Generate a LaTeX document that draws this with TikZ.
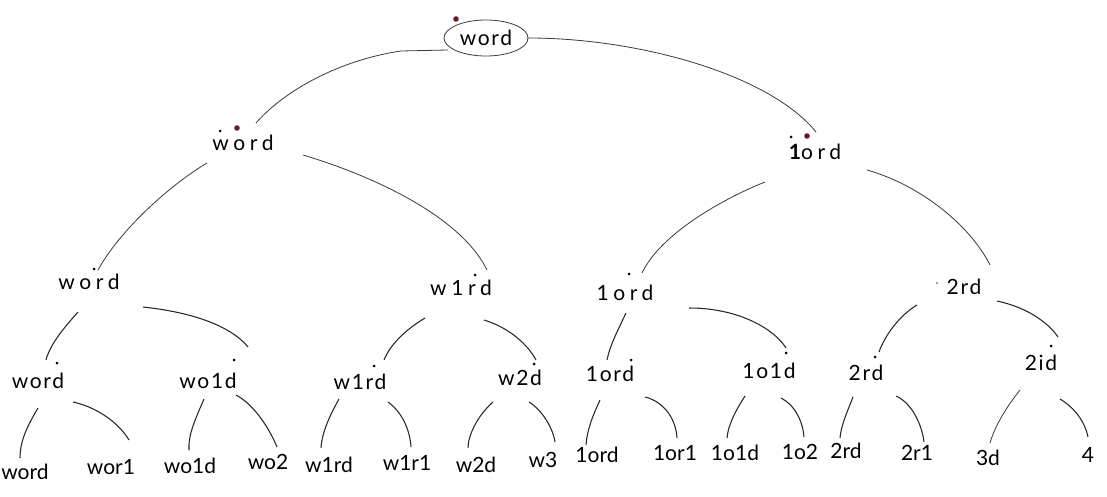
\documentclass[tikz,border=0pt]{standalone}
\usepackage{fontspec}
\setmainfont{Lato}
\usetikzlibrary{shapes.geometric}
\definecolor{dotred}{HTML}{6E1A26}
\definecolor{ink}{HTML}{3A3A3A}
\newcommand{\conn}[5]{\coordinate (#1s) at (#2); \coordinate (#1t) at (#5); \draw[edge] (#1s) .. controls (#3) and (#4) .. (#1t);}
\newcommand{\connb}[5]{\coordinate (#1s) at (#2); \coordinate (#1t) at (#5); \draw[edgeb] (#1s) .. controls (#3) and (#4) .. (#1t);}
\begin{document}
\begin{tikzpicture}[x=1pt,y=-1pt,
  edge/.style={draw=ink,line width=0.8pt},
  edgeb/.style={draw=black!85,line width=1.05pt},
  lbl/.style={inner sep=0pt,anchor=center,font=\fontsize{21}{21}\selectfont},
  wide/.style={inner sep=0pt,anchor=center,font=\fontsize{21}{21}\selectfont\addfontfeature{LetterSpace=22}},
  mid/.style={inner sep=0pt,anchor=center,font=\fontsize{21}{21}\selectfont\addfontfeature{LetterSpace=8}},
  rootbox/.style={ellipse,draw=ink,line width=0.8pt,minimum width=84pt,minimum height=36pt,inner sep=0pt,font=\fontsize{21}{21}\selectfont\addfontfeature{LetterSpace=8}},
  rdot/.style={fill=dotred},
  bdot/.style={fill=black}]
\fill[white] (0,0) rectangle (1107,497);
\useasboundingbox (0,0) rectangle (1107,497);

% root and level 1
\node[rootbox] (root) at (486,38) {word};
\node[wide] (a) at (243,143) {word};
\node[wide] (b) at (815,152) {{\bfseries 1}ord};

% level 2
\node[wide] (c) at (89,282) {word};
\node[wide] (d) at (461,288) {w1rd};
\node[wide] (e) at (625,293) {1ord};
\node[mid] (f) at (964,287) {2rd};

% level 3
\node[mid] (g1) at (38,381) {word};
\node[mid] (g2) at (208,381) {wo1d};
\node[mid] (g3) at (360,382) {w1rd};
\node[mid] (g4) at (520,378) {w2d};
\node[mid] (g5) at (610,374) {1ord};
\node[mid] (g6) at (769,371) {1o1d};
\node[mid] (g7) at (866,373) {2rd};
\node[mid] (g8) at (1041,363) {2id};

% level 4
\node[lbl] (h1) at (25,472) {word};
\node[lbl] (h2) at (111,467) {wor1};
\node[lbl] (h3) at (190,466) {wo1d};
\node[lbl] (h4) at (268,462) {wo2};
\node[lbl] (h5) at (329,465) {w1rd};
\node[lbl] (h6) at (407,463) {w1r1};
\node[lbl] (h7) at (476,465) {w2d};
\node[lbl] (h8) at (543,460) {w3};
\node[lbl] (h9) at (597,455) {1ord};
\node[lbl] (h10) at (675,453) {1or1};
\node[lbl] (h11) at (735,453) {1o1d};
\node[lbl] (h12) at (800,452) {1o2};
\node[lbl] (h13) at (846,451) {2rd};
\node[lbl] (h14) at (917,453) {2r1};
\node[lbl] (h15) at (988,458) {3d};
\node[lbl] (h16) at (1088,455) {4};

% dots
\fill[rdot] (456,19) circle (2.8);
\fill[bdot] (220,131) circle (1.5);
\fill[rdot] (237,128) circle (2.8);
\fill[bdot] (791,137) circle (1.5);
\fill[rdot] (807,136) circle (2.8);
\fill[bdot] (94,269) circle (1.5);
\fill[bdot] (475,275) circle (1.5);
\fill[bdot] (629,274) circle (1.5);
\fill[black!50] (937,283) circle (1.1);
\fill[bdot] (57,363) circle (1.5);
\fill[bdot] (234,360) circle (1.5);
\fill[bdot] (374,366) circle (1.5);
\fill[bdot] (534,364) circle (1.5);
\fill[bdot] (631,360) circle (1.5);
\fill[bdot] (786,353) circle (1.5);
\fill[bdot] (875,357) circle (1.5);
\fill[bdot] (1051,346) circle (1.5);

% connectors: root
\coordinate (r1s) at (448,50);
\coordinate (r1k) at (401,51);
\coordinate (r1t) at (256,123);
\draw[edge] (r1s) -- (r1k) .. controls (340,60) and (285,90) .. (r1t);
\conn{r2}{528,38}{640,38}{770,75}{816,132}
% level 1
\conn{a1}{207,163}{170,185}{120,230}{98,270}
\conn{a2}{303,155}{370,175}{460,215}{487,270}
\conn{b1}{765,182}{720,200}{660,235}{642,273}
\conn{b2}{867,170}{920,185}{970,225}{990,265}
% level 2
\connb{c1}{78,312}{62,330}{50,345}{46,360}
\connb{c2}{143,307}{190,312}{230,325}{248,347}
\connb{d1}{425,318}{405,330}{390,345}{384,360}
\connb{d2}{484,320}{510,328}{528,345}{536,360}
\connb{e1}{626,313}{618,330}{610,345}{607,360}
\connb{e2}{689,308}{740,308}{775,330}{786,348}
\connb{f1}{917,305}{900,315}{885,335}{879,352}
\connb{f2}{997,301}{1030,308}{1050,325}{1058,337}
% level 3
\connb{g1a}{38,408}{28,425}{20,440}{20,458}
\connb{g1b}{73,402}{100,408}{120,425}{129,440}
\connb{g2a}{204,399}{195,420}{188,435}{189,450}
\connb{g2b}{236,395}{255,405}{270,430}{277,447}
\connb{g3a}{339,399}{330,415}{322,432}{321,448}
\connb{g3b}{388,402}{402,412}{410,430}{411,447}
\connb{g4a}{493,402}{478,415}{468,435}{468,448}
\connb{g4b}{529,402}{542,410}{553,428}{555,442}
\connb{g5a}{600,400}{593,415}{587,430}{586,445}
\connb{g5b}{645,397}{665,402}{676,420}{677,438}
\connb{g6a}{745,396}{736,410}{728,425}{727,438}
\connb{g6b}{781,398}{795,405}{803,422}{804,437}
\connb{g7a}{853,397}{848,410}{841,425}{840,438}
\connb{g7b}{896,396}{912,403}{922,425}{924,442}
\conn{g8a}{1020,390}{1008,405}{995,425}{990,443}
\connb{g8b}{1060,399}{1075,408}{1085,422}{1088,437}
\end{tikzpicture}
\end{document}
